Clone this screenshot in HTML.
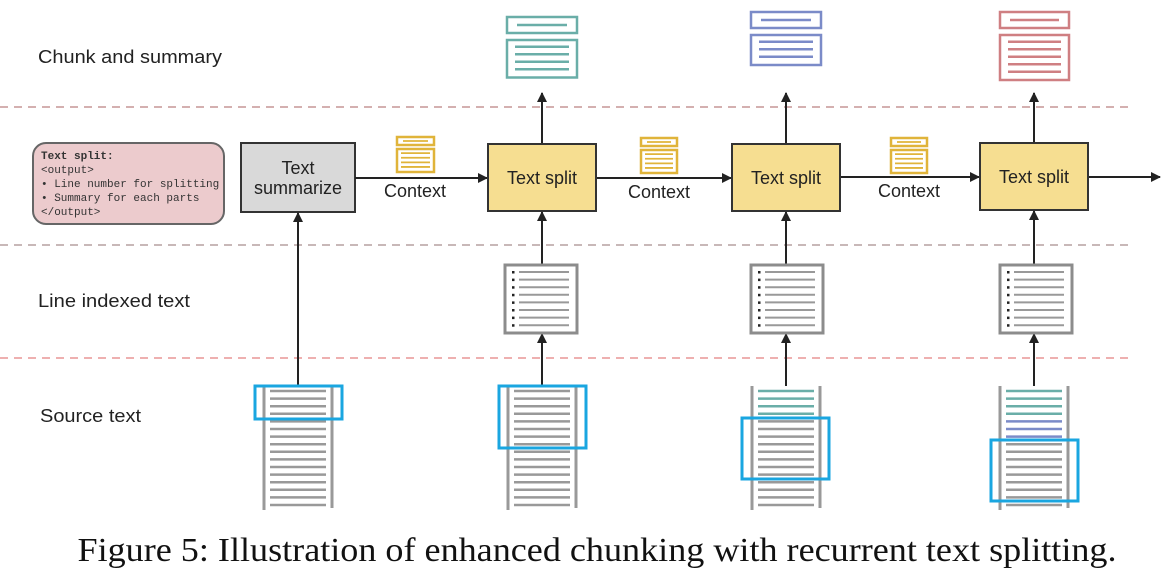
<!DOCTYPE html>
<html><head><meta charset="utf-8"><style>
html,body{margin:0;padding:0;background:#fff;width:1175px;height:581px;overflow:hidden}
svg{display:block}
.lbl{font-family:"Liberation Sans",sans-serif;font-size:18px;fill:#222}
.mono{font-family:"Liberation Mono",monospace;font-size:11px;fill:#333}
</style></head><body>
<svg id="s" width="1175" height="581" viewBox="0 0 1175 581" xmlns="http://www.w3.org/2000/svg">
<defs><marker id="ah" markerWidth="10" markerHeight="10" refX="9" refY="5" orient="auto" markerUnits="userSpaceOnUse"><path d="M0,0 L10,5 L0,10 z" fill="#222"/></marker></defs>
<g stroke-dasharray="8,6" stroke-width="2">
<line x1="0" y1="107" x2="1130" y2="107" stroke="#d4b0b0"/>
<line x1="0" y1="245" x2="1130" y2="245" stroke="#c8b8b8"/>
<line x1="0" y1="358" x2="1130" y2="358" stroke="#eeb0b0"/>
</g>
<text class="lbl" x="38" y="63" textLength="184" lengthAdjust="spacingAndGlyphs">Chunk and summary</text>
<text class="lbl" x="38" y="307" textLength="152" lengthAdjust="spacingAndGlyphs">Line indexed text</text>
<text class="lbl" x="40" y="422" textLength="101" lengthAdjust="spacingAndGlyphs">Source text</text>
<rect x="33" y="143" width="191" height="81" rx="13" fill="#eccbcd" stroke="#666" stroke-width="2"/>
<text class="mono" x="41" y="159" font-weight="bold">Text split:</text>
<text class="mono" x="41" y="173">&lt;output&gt;</text>
<text class="mono" x="41" y="187">• Line number for splitting</text>
<text class="mono" x="41" y="201">• Summary for each parts</text>
<text class="mono" x="41" y="215">&lt;/output&gt;</text>
<rect x="241" y="143" width="114" height="69" fill="#d9d9d9" stroke="#333" stroke-width="2"/>
<text class="lbl" x="298" y="174" text-anchor="middle" font-size="16">Text</text>
<text class="lbl" x="298" y="194" text-anchor="middle" font-size="16">summarize</text>
<g stroke="#222" stroke-width="2" marker-end="url(#ah)">
<line x1="355" y1="178" x2="487" y2="178"/>
<line x1="596" y1="178" x2="731" y2="178"/>
<line x1="840" y1="177" x2="979" y2="177"/>
<line x1="1088" y1="177" x2="1160" y2="177"/>
<line x1="542" y1="144" x2="542" y2="93"/>
<line x1="786" y1="144" x2="786" y2="93"/>
<line x1="1034" y1="143" x2="1034" y2="93"/>
<line x1="542" y1="265" x2="542" y2="212"/>
<line x1="786" y1="265" x2="786" y2="212"/>
<line x1="1034" y1="265" x2="1034" y2="211"/>
<line x1="298" y1="386" x2="298" y2="213"/>
<line x1="542" y1="386" x2="542" y2="334"/>
<line x1="786" y1="386" x2="786" y2="334"/>
<line x1="1034" y1="386" x2="1034" y2="334"/>
</g>
<g fill="#f6de91" stroke="#333" stroke-width="2">
<rect x="488" y="144" width="108" height="67"/>
<rect x="732" y="144" width="108" height="67"/>
<rect x="980" y="143" width="108" height="67"/>
</g>
<text class="lbl" x="542" y="184" text-anchor="middle" font-size="16">Text split</text>
<text class="lbl" x="786" y="184" text-anchor="middle" font-size="16">Text split</text>
<text class="lbl" x="1034" y="183" text-anchor="middle" font-size="16">Text split</text>
<text class="lbl" x="415" y="197" text-anchor="middle" font-size="16">Context</text>
<text class="lbl" x="659" y="198" text-anchor="middle" font-size="16">Context</text>
<text class="lbl" x="909" y="197" text-anchor="middle" font-size="16">Context</text>
<g id="dyn"></g>
<text x="597" y="561" text-anchor="middle" font-family="'Liberation Serif',serif" font-size="34" fill="#111" textLength="1039" lengthAdjust="spacingAndGlyphs">Figure 5: Illustration of enhanced chunking with recurrent text splitting.</text>
</svg>
<script>
var g=document.getElementById('dyn'),h='';
function R(x,y,w,hh,c,sw){h+='<rect x="'+x+'" y="'+y+'" width="'+w+'" height="'+hh+'" fill="none" stroke="'+c+'" stroke-width="'+sw+'"/>';}
function L(x1,y1,x2,y2,c,sw){h+='<line x1="'+x1+'" y1="'+y1+'" x2="'+x2+'" y2="'+y2+'" stroke="'+c+'" stroke-width="'+sw+'"/>';}
function doc(x,y1,y2,y3,w,c,n,ins,sp,lw){R(x,y1,w,y2-y1,c,2.5);L(x+ins+2,(y1+y2)/2,x+w-ins-2,(y1+y2)/2,c,lw);R(x,y3,w,n*sp+sp,c,2.5);for(var i=0;i<n;i++){var yy=y3+sp*0.9+i*sp;L(x+ins,yy,x+w-ins,yy,c,lw);}}
doc(507,17,33,40,70,'#6aaea8',4,8,7.5,2.5);
doc(751,12,28,35,70,'#7b8bc8',3,8,7.5,2.5);
doc(1000,12,28,35,69,'#cf7f82',5,8,7.5,2.5);
doc(397,137,145,149,37,'#e0b43a',4,4,4.6,1.8);
doc(641,138,146,150,36,'#e0b43a',4,4,4.6,1.8);
doc(891,138,146,150,36,'#e0b43a',4,4,4.6,1.8);
[505,751,1000].forEach(function(x){R(x,265,72,68,'#8c8c8c',3);for(var i=0;i<8;i++){var yy=272+i*7.6;h+='<rect x="'+(x+7)+'" y="'+(yy-1)+'" width="2.5" height="2.5" fill="#222"/>';L(x+14,yy,x+64,yy,'#999',2);}});
function col(cx,teal,blue,bx,by,bh){var x0=cx-34,x1=cx+34;L(x0,386,x0,510,'#999',3);L(x1,386,x1,508,'#999',3);for(var i=0;i<16;i++){var yy=391+i*7.6;var c=i<teal?'#6aaea8':(i<teal+blue?'#7b8bc8':'#999');L(cx-28,yy,cx+28,yy,c,2.5);}R(bx,by,87,bh,'#1aa6e0',3);}
col(298,0,0,255,386,33);
col(542,0,0,499,386,62);
col(786,4,0,742,418,61);
col(1034,4,3,991,440,61);
g.innerHTML=h;
</script>
</body></html>
